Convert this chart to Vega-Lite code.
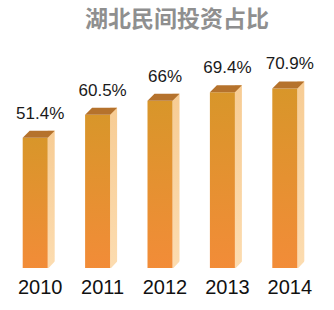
{
  "$schema": "https://vega.github.io/schema/vega-lite/v6.json",
  "width": 312,
  "height": 228,
  "autosize": {"type": "none"},
  "padding": {"left": 9, "top": 40, "right": 13, "bottom": 42},
  "background": "white",
  "title": {
    "text": "湖北民间投资占比",
    "font": "Noto Sans CJK SC",
    "fontSize": 23,
    "fontWeight": "bold",
    "color": "#8f8f8f",
    "anchor": "middle",
    "frame": "group",
    "baseline": "bottom",
    "offset": 8,
    "dx": 12,
    "dy": 23
  },
  "data": {
    "values": [
      {"year": "2010", "pct": 51.4, "label": "51.4%"},
      {"year": "2011", "pct": 60.5, "label": "60.5%"},
      {"year": "2012", "pct": 66, "label": "66%"},
      {"year": "2013", "pct": 69.4, "label": "69.4%"},
      {"year": "2014", "pct": 70.9, "label": "70.9%"}
    ]
  },
  "encoding": {
    "x": {
      "field": "year",
      "type": "nominal",
      "sort": null,
      "scale": {"paddingInner": 0, "paddingOuter": 0},
      "axis": {
        "title": null,
        "domain": false,
        "ticks": false,
        "labelAngle": 0,
        "labelFont": "Liberation Sans",
        "labelFontSize": 20,
        "labelColor": "#111111",
        "labelPadding": 9
      }
    }
  },
  "layer": [
    {
      "mark": {
        "type": "bar",
        "width": 7,
        "xOffset": 11,
        "yOffset": -7,
        "y2Offset": 0,
        "color": {
          "gradient": "linear",
          "x1": 0, "y1": 0, "x2": 0, "y2": 1,
          "stops": [
            {"offset": 0, "color": "#f7cc94"},
            {"offset": 1, "color": "#fcdcb0"}
          ]
        }
      },
      "encoding": {
        "y": {"field": "pct", "type": "quantitative", "scale": {"domain": [0, 87]}, "axis": null},
        "y2": {"datum": 0}
      }
    },
    {
      "mark": {
        "type": "point",
        "shape": "M0,0.08 L0.62,0.08 L0.62,-0.58 Z",
        "size": 625,
        "filled": true,
        "opacity": 1,
        "strokeWidth": 0,
        "color": "white",
        "xOffset": 7.5
      },
      "encoding": {
        "y": {"datum": 0, "type": "quantitative"}
      }
    },
    {
      "mark": {
        "type": "bar",
        "width": 25,
        "xOffset": -5,
        "color": {
          "gradient": "linear",
          "x1": 0, "y1": 0, "x2": 0, "y2": 1,
          "stops": [
            {"offset": 0, "color": "#d8962a"},
            {"offset": 1, "color": "#f28c38"}
          ]
        }
      },
      "encoding": {
        "y": {"field": "pct", "type": "quantitative"},
        "y2": {"datum": 0}
      }
    },
    {
      "mark": {
        "type": "point",
        "shape": "M-1,0 L1,0 L1.56,-0.56 L-0.44,-0.56 Z",
        "size": 625,
        "filled": true,
        "opacity": 1,
        "strokeWidth": 0,
        "color": "#b5722c",
        "xOffset": -5
      },
      "encoding": {
        "y": {"field": "pct", "type": "quantitative"}
      }
    },
    {
      "mark": {
        "type": "text",
        "font": "Liberation Sans",
        "fontSize": 17,
        "color": "#1a1a1a",
        "baseline": "alphabetic",
        "dy": -19
      },
      "encoding": {
        "y": {"field": "pct", "type": "quantitative"},
        "text": {"field": "label"}
      }
    }
  ],
  "config": {"view": {"stroke": null}}
}
